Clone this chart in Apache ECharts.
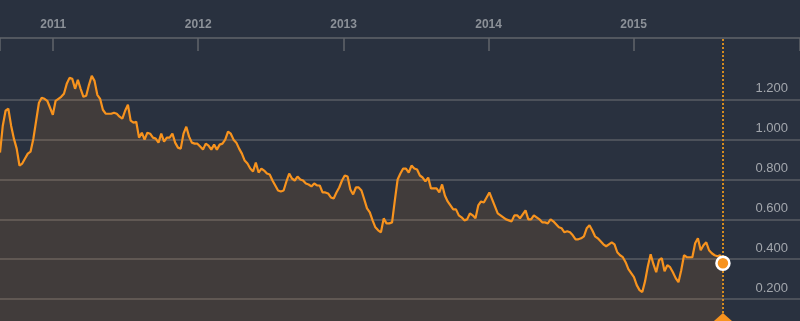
<!DOCTYPE html>
<html>
<head>
<meta charset="utf-8">
<script src="https://cdn.jsdelivr.net/npm/echarts@6/dist/echarts.min.js"></script>
<style>
html,body{margin:0;padding:0;background:#29313f;}
#chart{width:800px;height:321px;}
</style>
</head>
<body>
<div id="chart"></div>
<script>
// Weekly observations (Fridays)
const dates = [
'2010-08-20','2010-08-27','2010-09-03','2010-09-10','2010-09-17','2010-09-24','2010-10-01','2010-10-08','2010-10-15','2010-10-22',
'2010-10-29','2010-11-05','2010-11-12','2010-11-19','2010-11-26','2010-12-03','2010-12-10','2010-12-17','2010-12-24','2010-12-31',
'2011-01-07','2011-01-14','2011-01-21','2011-01-28','2011-02-04','2011-02-11','2011-02-18','2011-02-25','2011-03-04','2011-03-11',
'2011-03-18','2011-03-25','2011-04-01','2011-04-08','2011-04-15','2011-04-22','2011-04-29','2011-05-06','2011-05-13','2011-05-20',
'2011-05-27','2011-06-03','2011-06-10','2011-06-17','2011-06-24','2011-07-01','2011-07-08','2011-07-15','2011-07-22','2011-07-29',
'2011-08-05','2011-08-12','2011-08-19','2011-08-26','2011-09-02','2011-09-09','2011-09-16','2011-09-23','2011-09-30','2011-10-07',
'2011-10-14','2011-10-21','2011-10-28','2011-11-04','2011-11-11','2011-11-18','2011-11-25','2011-12-02','2011-12-09','2011-12-16',
'2011-12-23','2011-12-30',
'2012-01-06','2012-01-13','2012-01-20','2012-01-27','2012-02-03','2012-02-10','2012-02-17','2012-02-24','2012-03-02','2012-03-09',
'2012-03-16','2012-03-23','2012-03-30','2012-04-06','2012-04-13','2012-04-20','2012-04-27','2012-05-04','2012-05-11','2012-05-18',
'2012-05-25','2012-06-01','2012-06-08','2012-06-15','2012-06-22','2012-06-29','2012-07-06','2012-07-13','2012-07-20','2012-07-27',
'2012-08-03','2012-08-10','2012-08-17','2012-08-24','2012-08-31','2012-09-07','2012-09-14','2012-09-21','2012-09-28','2012-10-05',
'2012-10-12','2012-10-19','2012-10-26','2012-11-02','2012-11-09','2012-11-16','2012-11-23','2012-11-30','2012-12-07','2012-12-14',
'2012-12-21','2012-12-28',
'2013-01-04','2013-01-11','2013-01-18','2013-01-25','2013-02-01','2013-02-08','2013-02-15','2013-02-22','2013-03-01','2013-03-08',
'2013-03-15','2013-03-22','2013-03-29','2013-04-05','2013-04-12','2013-04-19','2013-04-26','2013-05-03','2013-05-10','2013-05-17',
'2013-05-24','2013-05-31','2013-06-07','2013-06-14','2013-06-21','2013-06-28','2013-07-05','2013-07-12','2013-07-19','2013-07-26',
'2013-08-02','2013-08-09','2013-08-16','2013-08-23','2013-08-30','2013-09-06','2013-09-13','2013-09-20','2013-09-27','2013-10-04',
'2013-10-11','2013-10-18','2013-10-25','2013-11-01','2013-11-08','2013-11-15','2013-11-22','2013-11-29','2013-12-06','2013-12-13',
'2013-12-20','2013-12-27',
'2014-01-03','2014-01-10','2014-01-17','2014-01-24','2014-01-31','2014-02-07','2014-02-14','2014-02-21','2014-02-28','2014-03-07',
'2014-03-14','2014-03-21','2014-03-28','2014-04-04','2014-04-11','2014-04-18','2014-04-25','2014-05-02','2014-05-09','2014-05-16',
'2014-05-23','2014-05-30','2014-06-06','2014-06-13','2014-06-20','2014-06-27','2014-07-04','2014-07-11','2014-07-18','2014-07-25',
'2014-08-01','2014-08-08','2014-08-15','2014-08-22','2014-08-29','2014-09-05','2014-09-12','2014-09-19','2014-09-26','2014-10-03',
'2014-10-10','2014-10-17','2014-10-24','2014-10-31','2014-11-07','2014-11-14','2014-11-21','2014-11-28','2014-12-05','2014-12-12',
'2014-12-19','2014-12-26',
'2015-01-02','2015-01-09','2015-01-16','2015-01-23','2015-01-30','2015-02-06','2015-02-13','2015-02-20','2015-02-27','2015-03-06',
'2015-03-13','2015-03-20','2015-03-27','2015-04-03','2015-04-10','2015-04-17','2015-04-24','2015-05-01','2015-05-08','2015-05-15',
'2015-05-22','2015-05-29','2015-06-05','2015-06-12','2015-06-19','2015-06-26','2015-07-03','2015-07-10','2015-07-17','2015-07-24',
'2015-07-31','2015-08-07','2015-08-14'
];

const values = [
0.935,1.07,1.145,1.155,1.07,1.005,0.955,0.87,0.88,0.905,
0.93,0.94,1.005,1.095,1.185,1.21,1.205,1.195,1.16,1.125,
1.195,1.205,1.215,1.23,1.28,1.31,1.305,1.255,1.30,1.255,
1.215,1.22,1.275,1.32,1.295,1.225,1.205,1.15,1.13,1.13,
1.13,1.135,1.13,1.115,1.105,1.145,1.175,1.095,1.085,1.09,
1.01,1.035,1.0,1.035,1.03,1.01,1.005,0.985,1.03,0.99,
1.01,1.01,1.03,0.985,0.96,0.955,1.03,1.065,1.015,0.985,
0.98,0.98,0.965,0.95,0.98,0.97,0.95,0.975,0.95,0.975,
0.98,1.0,1.04,1.03,1.0,0.985,0.955,0.93,0.895,0.88,
0.855,0.84,0.885,0.835,0.855,0.845,0.83,0.825,0.795,0.77,
0.745,0.74,0.745,0.79,0.83,0.805,0.795,0.815,0.80,0.795,
0.78,0.775,0.765,0.78,0.77,0.77,0.735,0.735,0.73,0.71,
0.705,0.735,0.76,0.795,0.82,0.815,0.75,0.725,0.76,0.76,
0.745,0.70,0.655,0.635,0.595,0.56,0.545,0.535,0.605,0.58,
0.58,0.585,0.695,0.80,0.83,0.855,0.855,0.835,0.87,0.855,
0.85,0.82,0.81,0.79,0.81,0.755,0.755,0.755,0.735,0.775,
0.72,0.69,0.67,0.65,0.65,0.62,0.61,0.595,0.60,0.63,
0.62,0.605,0.67,0.69,0.685,0.71,0.735,0.70,0.665,0.63,
0.62,0.61,0.60,0.595,0.59,0.62,0.62,0.605,0.625,0.645,
0.60,0.60,0.62,0.61,0.60,0.585,0.585,0.58,0.60,0.59,
0.575,0.56,0.555,0.535,0.54,0.535,0.52,0.50,0.50,0.505,
0.515,0.555,0.57,0.545,0.515,0.505,0.49,0.475,0.465,0.475,
0.485,0.475,0.435,0.42,0.41,0.385,0.35,0.33,0.31,0.27,
0.245,0.235,0.29,0.365,0.425,0.375,0.335,0.395,0.405,0.34,
0.37,0.36,0.335,0.305,0.285,0.345,0.42,0.41,0.41,0.41,
0.48,0.505,0.445,0.47,0.485,0.445,0.43,0.42,0.415,0.42,0.38
];

const yearTicks = ['2011-01-01','2012-01-01','2013-01-01','2014-01-01','2015-01-01'];
const yTicks = [0.2, 0.4, 0.6, 0.8, 1.0, 1.2];
const axisStart = '2010-08-20';
const axisEnd = '2016-02-24';

function ts(s) { const p = s.split('-').map(Number); return new Date(p[0], p[1] - 1, p[2]).getTime(); }

const seriesData = dates.map((d, i) => [ts(d), values[i]]);
const last = seriesData[seriesData.length - 1];
const yMin = 0.09, yMax = 1.51;
const orange = '#f7931e';

const chart = echarts.init(document.getElementById('chart'), null, { renderer: 'canvas' });
chart.setOption({
  animation: false,
  backgroundColor: '#29313f',
  textStyle: { fontFamily: '"Liberation Sans", Arial, sans-serif' },
  grid: { left: 0, right: 0, top: 38, bottom: 0, containLabel: false },
  xAxis: {
    type: 'value',
    position: 'top',
    min: ts(axisStart),
    max: ts(axisEnd),
    axisLine: { show: true, lineStyle: { color: '#60646b', width: 1.5 } },
    axisTick: {
      show: true, inside: true, length: 13,
      lineStyle: { color: '#60646b', width: 1.5 },
      customValues: [ts(axisStart)].concat(yearTicks.map(ts), [ts(axisEnd)])
    },
    axisLabel: {
      show: true,
      customValues: yearTicks.map(ts),
      formatter: v => String(new Date(v).getFullYear()),
      color: '#8c9198', fontWeight: 'bold', fontSize: 12, margin: 7
    },
    splitLine: { show: false }
  },
  yAxis: {
    type: 'value',
    position: 'right',
    min: yMin,
    max: yMax,
    axisLine: { show: false },
    axisTick: { show: false, customValues: yTicks },
    axisLabel: {
      inside: true,
      customValues: yTicks,
      formatter: v => v.toFixed(3),
      color: '#a3a7ad', fontSize: 13, margin: 12,
      verticalAlign: 'bottom', lineHeight: 14, padding: [0, 0, 4, 0]
    },
    splitLine: { show: true, lineStyle: { color: '#585d65', width: 1.5 } }
  },
  series: [
    {
      type: 'line',
      data: seriesData,
      showSymbol: false,
      symbol: 'none',
      lineStyle: { color: orange, width: 2.2 },
      areaStyle: { color: 'rgba(247,147,30,0.17)', origin: 'start' },
      markLine: {
        silent: true,
        symbol: 'none',
        label: { show: false },
        lineStyle: { color: '#d68c1f', type: 'dotted', width: 2 },
        data: [{ xAxis: last[0] }]
      },
      z: 2
    },
    {
      type: 'scatter',
      data: [last],
      symbol: 'circle',
      symbolSize: 13,
      itemStyle: { color: orange, borderColor: '#ffffff', borderWidth: 2.5, opacity: 1 },
      markPoint: {
        silent: true,
        symbol: 'triangle',
        symbolSize: [36, 16],
        itemStyle: { color: orange },
        label: { show: false },
        data: [{ coord: [last[0], yMin] }]
      },
      z: 5
    }
  ]
});
</script>
</body>
</html>
